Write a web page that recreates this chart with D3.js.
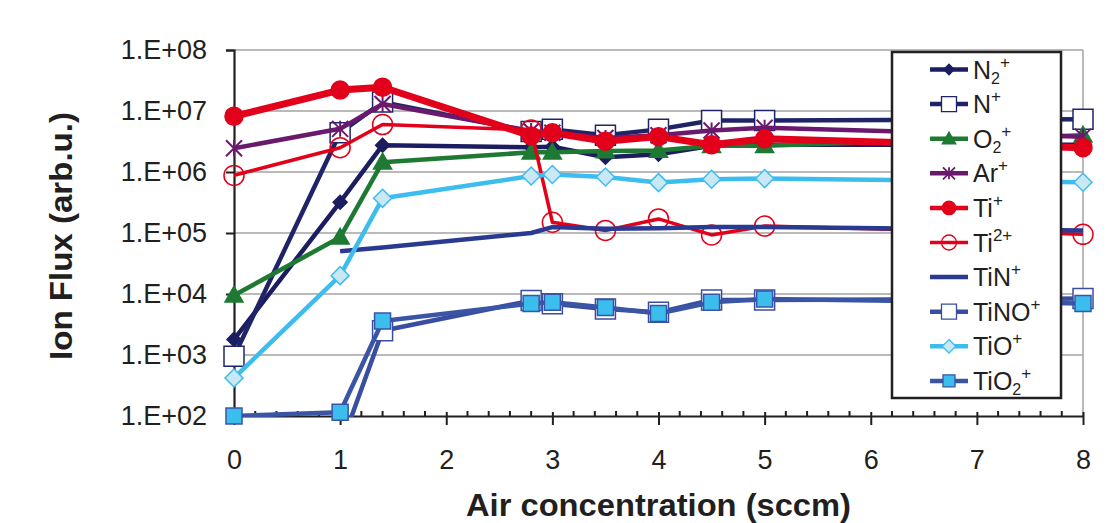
<!DOCTYPE html>
<html lang="en">
<head>
<meta charset="UTF-8">
<title>Ion Flux vs Air concentration</title>
<script src="https://d3js.org/d3.v7.min.js"></script>
<style>
    body { margin: 0; background: #fff; }
    svg { font-family: "Liberation Sans", Arial, sans-serif; }
    .tick-label { font-size: 27px; fill: #231f20; }
    .axis-title { font-size: 31px; font-weight: bold; fill: #231f20; }
    .legend-text { font-size: 25px; fill: #231f20; }
</style>
</head>
<body>
<div id="chart"></div>
<script>
    // Data
    const xValues = [0, 1, 1.4, 2.8, 3, 3.5, 4, 4.5, 5, 8];
    const xTicks = [0, 1, 2, 3, 4, 5, 6, 7, 8];
    const yTicks = [1e2, 1e3, 1e4, 1e5, 1e6, 1e7, 1e8];
    const yTickLabels = ["1.E+02", "1.E+03", "1.E+04", "1.E+05", "1.E+06", "1.E+07", "1.E+08"];

    const n2Plus   = [1.8e3, 3.2e5, 2.75e6, 2.55e6, 2.6e6, 1.75e6, 1.95e6, 2.7e6, 2.8e6, 2.8e6];
    const nPlus    = [9.5e2, 4.4e6, 1.4e7, 4.6e6, 5.0e6, 4.0e6, 5.0e6, 7.0e6, 7.0e6, 7.3e6];
    const o2Plus   = [9.5e3, 8.5e4, 1.45e6, 2.1e6, 2.1e6, 2.2e6, 2.25e6, 2.7e6, 2.7e6, 4.0e6];
    const arPlus   = [2.45e6, 5.1e6, 1.3e7, 4.7e6, 4.4e6, 3.6e6, 4.0e6, 4.8e6, 5.3e6, 3.8e6];
    const tiPlus   = [8.2e6, 2.2e7, 2.45e7, 3.9e6, 4.4e6, 3.2e6, 3.8e6, 2.8e6, 3.5e6, 2.5e6];
    const ti2Plus  = [8.8e5, 2.5e6, 6.0e6, 4.9e6, 1.5e5, 1.1e5, 1.7e5, 9.3e4, 1.3e5, 9.5e4];
    const tinPlus  = [null, 5.0e4, 5.8e4, 1.0e5, 1.25e5, 1.17e5, 1.2e5, 1.25e5, 1.25e5, 1.1e5];
    const tinoPlus = [null, 30, 2.5e3, 7.8e3, 6.9e3, 5.7e3, 5.0e3, 8.0e3, 8.0e3, 8.4e3];
    const tioPlus  = [4.2e2, 2.0e4, 3.7e5, 8.6e5, 9.1e5, 8.3e5, 6.7e5, 7.6e5, 7.8e5, 6.8e5];
    const tio2Plus = [1.0e2, 1.15e2, 3.6e3, 7.0e3, 7.3e3, 6.0e3, 4.8e3, 7.3e3, 8.3e3, 7.0e3];

    // legend labels: [text, position]
    const seriesLabels = [
        [["N", "b"], ["2", "sub"], ["+", "sup2"]],
        [["N", "b"], ["+", "sup"]],
        [["O", "b"], ["2", "sub"], ["+", "sup2"]],
        [["Ar", "b"], ["+", "sup"]],
        [["Ti", "b"], ["+", "sup"]],
        [["Ti", "b"], ["2+", "sup"]],
        [["TiN", "b"], ["+", "sup"]],
        [["TiNO", "b"], ["+", "sup"]],
        [["TiO", "b"], ["+", "sup"]],
        [["TiO", "b"], ["2", "sub"], ["+", "sup2"]]
    ];
    const seriesValues = [n2Plus, nPlus, o2Plus, arPlus, tiPlus, ti2Plus, tinPlus, tinoPlus, tioPlus, tio2Plus];

    // styles
    const seriesStyles = [
        {line: "#1c1c60", width: 4.5, marker: "diamond", size: 7,  fill: "#1c1c60", stroke: "#1c1c60"},
        {line: "#1f2468", width: 4.5, marker: "square",  size: 10, fill: "#fff",    stroke: "#1f2468"},
        {line: "#1e7a33", width: 4.5, marker: "triangle",size: 9,  fill: "#1e7a33", stroke: "#1e7a33"},
        {line: "#6a1a6c", width: 4.5, marker: "star",    size: 8,  fill: "none",    stroke: "#6a1a6c"},
        {line: "#e2001a", width: 7,   marker: "circle",  size: 9,  fill: "#e2001a", stroke: "#e2001a"},
        {line: "#e2001a", width: 3.5, marker: "circle",  size: 10, fill: "none",    stroke: "#e2001a"},
        {line: "#2b3a91", width: 4.5, marker: null},
        {line: "#3a4ea1", width: 4.5, marker: "square",  size: 10, fill: "#fff",    stroke: "#3a4ea1"},
        {line: "#3dbdee", width: 4.5, marker: "diamond", size: 9,  fill: "#c9e8f3", stroke: "#3dbdee"},
        {line: "#3a55a5", width: 4.5, marker: "square",  size: 8,  fill: "#3bbdee", stroke: "#3a55a5"}
    ];

    const width = 1117;
    const height = 523;
    const plot = {left: 234, right: 1083, top: 50, bottom: 416};

    const svg = d3.select("#chart").append("svg")
        .attr("width", width)
        .attr("height", height);

    const x = d3.scaleLinear().domain([0, 8]).range([plot.left, plot.right]);
    const y = d3.scaleLog().domain([1e2, 1e8]).range([plot.bottom, plot.top]);

    function markerPath(type, s) {
        switch (type) {
            case "diamond": return `M0,${-s}L${s},0L0,${s}L${-s},0Z`;
            case "square": return `M${-s},${-s}H${s}V${s}H${-s}Z`;
            case "triangle": return `M0,${-s}L${s},${s * 0.75}L${-s},${s * 0.75}Z`;
            case "circle": return `M${s},0A${s},${s} 0 1,1 ${-s},0A${s},${s} 0 1,1 ${s},0Z`;
            case "star": return `M${-s},${-s}L${s},${s}M${-s},${s}L${s},${-s}M0,${-s}V${s}`;
        }
        return "";
    }

    // gridlines
    svg.append("g").selectAll("line")
        .data(yTicks.slice(1))
        .join("line")
        .attr("x1", plot.left).attr("x2", plot.right)
        .attr("y1", d => y(d)).attr("y2", d => y(d))
        .attr("stroke", "#a3a3a3").attr("stroke-width", 1.5);

    svg.append("line")
        .attr("x1", plot.right).attr("x2", plot.right)
        .attr("y1", plot.top).attr("y2", plot.bottom)
        .attr("stroke", "#a3a3a3").attr("stroke-width", 1.5);

    // y axis
    const yAxis = svg.append("g")
        .attr("transform", `translate(${plot.left},0)`)
        .call(d3.axisLeft(y).tickValues(yTicks).tickSize(8).tickFormat((d, i) => yTickLabels[i]).tickPadding(19));
    yAxis.select(".domain").attr("stroke", "#231f20").attr("stroke-width", 2.2);
    yAxis.selectAll(".tick line").attr("stroke", "#231f20").attr("stroke-width", 2);
    yAxis.selectAll(".tick text").attr("class", "tick-label").attr("font-size", null).attr("font-family", null);

    // x axis
    const xAxis = svg.append("g")
        .attr("transform", `translate(0,${plot.bottom})`)
        .call(d3.axisBottom(x).tickValues(xTicks).tickSize(9).tickSizeOuter(0).tickFormat(d3.format("d")).tickPadding(25));
    xAxis.select(".domain").attr("stroke", "#231f20").attr("stroke-width", 2.2);
    xAxis.selectAll(".tick line").attr("stroke", "#231f20").attr("stroke-width", 2).attr("y1", -4);
    xAxis.selectAll(".tick text").attr("class", "tick-label").attr("font-size", null).attr("font-family", null);

    // minor ticks on x
    const minorTicks = d3.range(0, 40).map(i => i * 0.2).filter(v => Math.abs(v - Math.round(v)) > 0.01);
    svg.append("g").selectAll("line")
        .data(minorTicks)
        .join("line")
        .attr("x1", d => x(d)).attr("x2", d => x(d))
        .attr("y1", plot.bottom - 5).attr("y2", plot.bottom)
        .attr("stroke", "#231f20").attr("stroke-width", 2);

    // axis titles
    svg.append("text")
        .attr("class", "axis-title")
        .attr("x", (plot.left + plot.right) / 2)
        .attr("y", 516)
        .attr("text-anchor", "middle")
        .attr("textLength", 385)
        .attr("lengthAdjust", "spacingAndGlyphs")
        .text("Air concentration (sccm)");

    svg.append("text")
        .attr("class", "axis-title")
        .attr("transform", "translate(72,236) rotate(-90)")
        .attr("text-anchor", "middle")
        .attr("textLength", 248)
        .attr("lengthAdjust", "spacingAndGlyphs")
        .text("Ion Flux (arb.u.)");

    // series
    svg.append("clipPath").attr("id", "plot-clip")
        .append("rect")
        .attr("x", plot.left).attr("y", plot.top)
        .attr("width", plot.right - plot.left).attr("height", plot.bottom - plot.top + 1);

    const line = d3.line()
        .defined(d => d[1] != null)
        .x(d => x(d[0]))
        .y(d => y(d[1]));

    seriesValues.forEach((vals, i) => {
        const st = seriesStyles[i];
        const pts = xValues.map((xv, j) => [xv, vals[j]]);
        const g = svg.append("g");
        g.append("path")
            .datum(pts)
            .attr("clip-path", "url(#plot-clip)")
            .attr("fill", "none")
            .attr("stroke", st.line)
            .attr("stroke-width", st.width)
            .attr("stroke-linejoin", "round")
            .attr("d", line);
        if (st.marker) {
            g.selectAll(".mk")
                .data(pts.filter(d => d[1] != null && d[1] >= 1e2))
                .join("path")
                .attr("class", "mk")
                .attr("transform", d => `translate(${x(d[0])},${y(d[1])})`)
                .attr("d", markerPath(st.marker, st.size))
                .attr("fill", st.fill)
                .attr("stroke", st.stroke)
                .attr("stroke-width", st.marker === "star" ? 2 : 1.5);
        }
    });

    // legend
    const legend = svg.append("g");
    legend.append("rect")
        .attr("x", 892).attr("y", 52)
        .attr("width", 169).attr("height", 346)
        .attr("fill", "#fff")
        .attr("stroke", "#231f20")
        .attr("stroke-width", 2.5);

    seriesLabels.forEach((parts, i) => {
        const st = seriesStyles[i];
        const cy = 69.5 + i * 34.6;
        const item = legend.append("g").attr("transform", `translate(0,${cy})`);
        item.append("line")
            .attr("x1", 930).attr("x2", 968)
            .attr("stroke", st.line)
            .attr("stroke-width", Math.min(st.width, 4.5));
        if (st.marker) {
            item.append("path")
                .attr("transform", "translate(949,0)")
                .attr("d", markerPath(st.marker, st.size * 0.75))
                .attr("fill", st.fill)
                .attr("stroke", st.stroke)
                .attr("stroke-width", st.marker === "star" ? 1.8 : 1.3);
        }
        const txt = item.append("text")
            .attr("class", "legend-text")
            .attr("x", 973)
            .attr("y", 9);
        parts.forEach(([t, pos]) => {
            const ts = txt.append("tspan").text(t);
            if (pos === "sub") ts.attr("font-size", 16).attr("dy", 5);
            if (pos === "sup") ts.attr("font-size", 17).attr("dy", -11);
            if (pos === "sup2") ts.attr("font-size", 17).attr("dy", -16);
        });
    });
</script>
</body>
</html>
